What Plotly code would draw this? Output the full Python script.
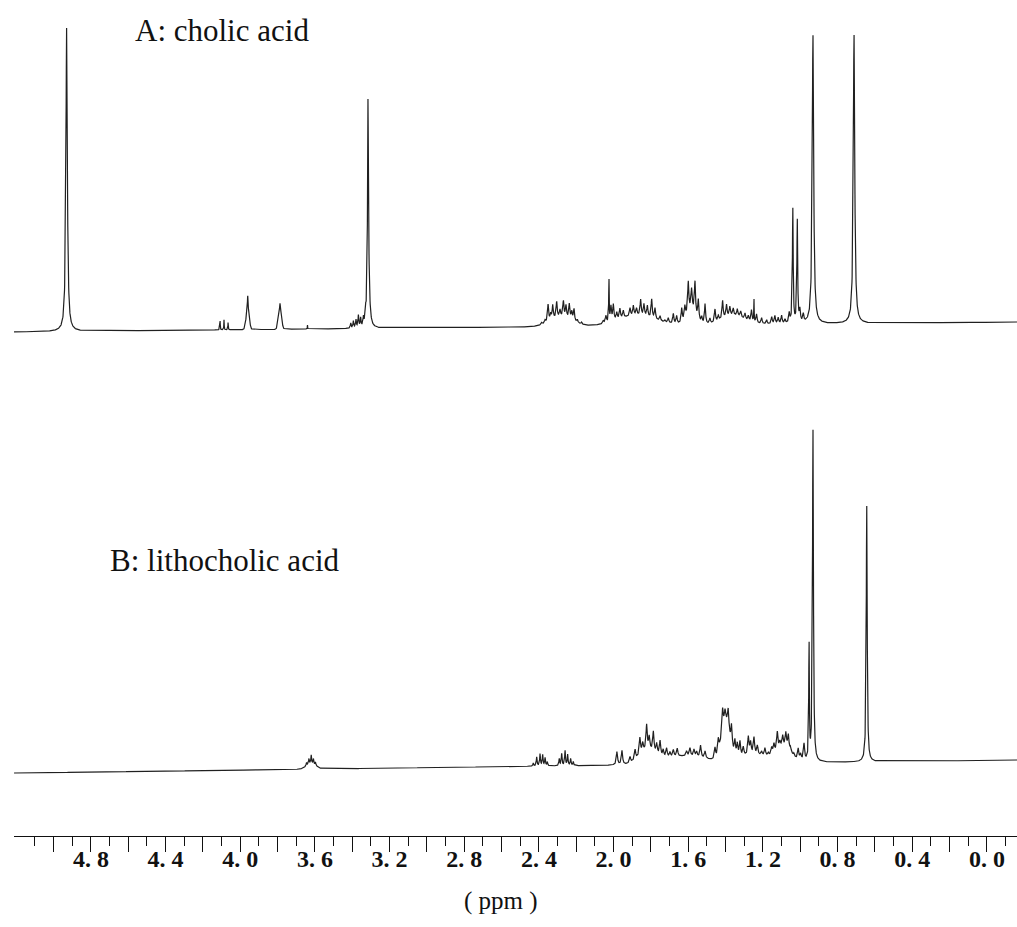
import numpy as np
import plotly.graph_objects as go

# ---------------- axis / ticks ----------------
PPM_LEFT = 5.212
PPM_RIGHT = -0.161
TICK_VALUES = [5.0, 4.8, 4.6, 4.4, 4.2, 4.0, 3.8, 3.6, 3.4, 3.2, 3.0, 2.8, 2.6,
               2.4, 2.2, 2.0, 1.8, 1.6, 1.4, 1.2, 1.0, 0.8, 0.6, 0.4, 0.2, 0.0]
TICK_LABELS = ["", "4. 8", "", "4. 4", "", "4. 0", "", "3. 6", "", "3. 2", "", "2. 8", "",
               "2. 4", "", "2. 0", "", "1. 6", "", "1. 2", "", "0. 8", "", "0. 4", "", "0. 0"]
MINOR_TICK_VALUES = [5.1, 4.9, 4.7, 4.5, 4.3, 4.1, 3.9, 3.7, 3.5, 3.3, 3.1, 2.9, 2.7,
                     2.5, 2.3, 2.1, 1.9, 1.7, 1.5, 1.3, 1.1, 0.9, 0.7, 0.5, 0.3, 0.1, -0.1]

# ---------------- spectrum A: cholic acid ----------------
# sharp lines: position (ppm), height, half-width (ppm)
A_LINE_PPM = [4.930, 4.108, 4.087, 4.065, 3.960, 3.787, 3.640,
              3.408, 3.394, 3.380, 3.367, 3.355, 3.340, 3.328, 3.316, 3.313,
              2.385, 2.367, 2.351, 2.337, 2.326, 2.305, 2.287, 2.269, 2.255, 2.237, 2.224, 2.212, 2.194, 2.171,
              2.055, 2.041, 2.025, 2.014, 2.001, 1.983, 1.966, 1.948, 1.912, 1.894, 1.877, 1.855, 1.837,
              1.819, 1.796, 1.778, 1.751, 1.725, 1.707, 1.680, 1.662, 1.635, 1.618, 1.600, 1.582, 1.564,
              1.546, 1.528, 1.510, 1.484, 1.457, 1.439, 1.416, 1.395, 1.377, 1.359, 1.337, 1.319, 1.296,
              1.278, 1.261, 1.248, 1.234, 1.207, 1.180, 1.153, 1.136, 1.118, 1.100, 1.082, 1.059,
              1.040, 1.016, 1.002, 0.984, 0.932, 0.712]
A_LINE_H = [304, 9, 10, 8, 12, 5, 4,
            5, 7, 8, 12, 9, 8, 10, 185, 55,
            2, 3, 17, 6, 14, 16, 7, 16, 12, 15, 8, 12, 3, 2,
            3, 7, 44, 15, 16, 7, 10, 7, 8, 10, 7, 16, 12,
            11, 19, 11, 5, 2, 5, 10, 8, 14, 12, 30, 20, 32,
            20, 6, 20, 5, 13, 5, 18, 12, 9, 7, 7, 6, 6,
            5, 12, 23, 9, 6, 4, 7, 8, 6, 8, 4, 10,
            115, 103, 12, 8, 289, 289]
A_LINE_W = [0.0045, 0.0012, 0.0012, 0.0012, 0.0015, 0.0015, 0.001,
            0.0025, 0.0025, 0.0025, 0.0025, 0.0025, 0.0025, 0.0025, 0.0025, 0.006,
            0.0035, 0.0035, 0.0035, 0.0035, 0.0035, 0.0035, 0.0035, 0.0035, 0.0035, 0.0035, 0.0035, 0.0035, 0.0035, 0.0035,
            0.0035, 0.0035, 0.0015, 0.0035, 0.0035, 0.0035, 0.0035, 0.0035, 0.0035, 0.0035, 0.0035, 0.0035, 0.0035,
            0.0035, 0.0035, 0.0035, 0.0035, 0.0035, 0.0035, 0.0035, 0.0035, 0.0035, 0.0035, 0.0035, 0.0035, 0.0035,
            0.0035, 0.0035, 0.0035, 0.0035, 0.0035, 0.0035, 0.0035, 0.0035, 0.0035, 0.0035, 0.0035, 0.0035, 0.0035,
            0.0035, 0.0035, 0.0012, 0.0035, 0.0035, 0.0035, 0.0035, 0.0035, 0.0035, 0.0035, 0.0035, 0.0035,
            0.0025, 0.0025, 0.0035, 0.0035, 0.0045, 0.0045]
# broad humps: centre, height, sigma
A_BROAD_PPM = [3.960, 3.787, 2.280, 1.880, 1.585, 1.360]
A_BROAD_H = [22, 21, 9, 10, 15, 9]
A_BROAD_W = [0.008, 0.008, 0.06, 0.10, 0.025, 0.06]

# ---------------- spectrum B: lithocholic acid ----------------
B_LINE_PPM = [3.645, 3.632, 3.620, 3.608, 3.597,
              2.430, 2.412, 2.394, 2.380, 2.367, 2.355,
              2.291, 2.278, 2.260, 2.246, 2.230, 2.216,
              1.982, 1.955,
              1.912, 1.885, 1.859, 1.844, 1.823, 1.809, 1.787, 1.769, 1.751, 1.734, 1.716, 1.698,
              1.680, 1.659, 1.609, 1.591, 1.569, 1.555, 1.534, 1.510, 1.457, 1.439, 1.416, 1.403,
              1.386, 1.368, 1.350, 1.337, 1.323, 1.305, 1.278, 1.266, 1.248, 1.230, 1.207, 1.189,
              1.171, 1.153, 1.141, 1.123, 1.109, 1.094, 1.077, 1.064, 1.052, 1.034, 1.011, 0.998,
              0.980, 0.953, 0.932, 0.644]
B_LINE_H = [3, 5, 8, 5, 3,
            3, 9, 12, 11, 8, 4,
            7, 12, 15, 11, 7, 4,
            13, 14,
            6, 10, 17, 9, 25, 13, 20, 10, 15, 7, 9, 5,
            7, 8, 5, 8, 7, 5, 12, 7, 11, 14, 22, 11,
            19, 21, 15, 13, 15, 9, 18, 12, 17, 9, 4, 8,
            3, 7, 9, 18, 6, 11, 15, 15, 5, 3, 11, 6,
            17, 118, 333, 257]
B_LINE_W = [0.002, 0.002, 0.002, 0.002, 0.002,
            0.0025, 0.0025, 0.0025, 0.0025, 0.0025, 0.0025,
            0.0025, 0.0025, 0.0025, 0.0025, 0.0025, 0.0025,
            0.004, 0.004,
            0.004, 0.004, 0.004, 0.004, 0.004, 0.004, 0.004, 0.004, 0.004, 0.004, 0.004, 0.004,
            0.004, 0.004, 0.004, 0.004, 0.004, 0.004, 0.004, 0.004, 0.004, 0.004, 0.004, 0.004,
            0.004, 0.004, 0.004, 0.004, 0.004, 0.004, 0.004, 0.004, 0.004, 0.004, 0.004, 0.004,
            0.004, 0.004, 0.004, 0.004, 0.004, 0.004, 0.004, 0.004, 0.004, 0.004, 0.004, 0.004,
            0.004, 0.002, 0.003, 0.003]
B_BROAD_PPM = [3.620, 1.820, 1.620, 1.400, 1.250, 1.090]
B_BROAD_H = [6, 12, 8, 38, 8, 14]
B_BROAD_W = [0.025, 0.045, 0.12, 0.022, 0.08, 0.04]

# vertical placement of the two traces (baseline level at left / right end)
A_BASE = (504, 514)
B_BASE = (63, 76)
Y_TOP = 836

ppm = np.arange(PPM_RIGHT, PPM_LEFT, 0.0008)


def build(line_ppm, line_h, line_w, broad_ppm, broad_h, broad_w, base):
    y = np.zeros_like(ppm)
    for c, h, g in zip(line_ppm, line_h, line_w):
        y += h / (1.0 + ((ppm - c) / g) ** 2)
    for c, h, s in zip(broad_ppm, broad_h, broad_w):
        y += h * np.exp(-0.5 * ((ppm - c) / s) ** 2)
    frac = (PPM_LEFT - ppm) / (PPM_LEFT - PPM_RIGHT)
    return y + base[0] + (base[1] - base[0]) * frac


yA = build(A_LINE_PPM, A_LINE_H, A_LINE_W, A_BROAD_PPM, A_BROAD_H, A_BROAD_W, A_BASE)
yB = build(B_LINE_PPM, B_LINE_H, B_LINE_W, B_BROAD_PPM, B_BROAD_H, B_BROAD_W, B_BASE)

fig = go.Figure()
fig.add_trace(go.Scatter(x=ppm, y=yA, mode="lines", name="A: cholic acid",
                         line=dict(color="#202020", width=1.2), hoverinfo="skip"))
fig.add_trace(go.Scatter(x=ppm, y=yB, mode="lines", name="B: lithocholic acid",
                         line=dict(color="#202020", width=1.2), hoverinfo="skip"))

serif = "Liberation Serif, Times New Roman, serif"
fig.add_annotation(x=4.574, y=806, xref="x", yref="y", text="A: cholic acid",
                   showarrow=False, xanchor="left", yanchor="middle",
                   font=dict(family=serif, size=31, color="#111"))
fig.add_annotation(x=4.708, y=276, xref="x", yref="y", text="B: lithocholic acid",
                   showarrow=False, xanchor="left", yanchor="middle",
                   font=dict(family=serif, size=31, color="#111"))
fig.add_annotation(x=0.4856, y=-0.078, xref="paper", yref="paper", text="( ppm )",
                   showarrow=False, xanchor="center", yanchor="middle",
                   font=dict(family=serif, size=25, color="#111"))

fig.update_layout(
    width=1017, height=927,
    margin=dict(l=14, r=0, t=0, b=91),
    paper_bgcolor="white", plot_bgcolor="white",
    showlegend=False,
    xaxis=dict(range=[PPM_LEFT, PPM_RIGHT], autorange=False,
               showgrid=False, zeroline=False,
               showline=True, linecolor="#111", linewidth=1.2,
               tickmode="array", tickvals=TICK_VALUES, ticktext=TICK_LABELS,
               ticks="outside", ticklen=15, tickwidth=1, tickcolor="#111",
               ticklabelstandoff=-14,
               tickfont=dict(family=serif, size=24, color="#111", weight="bold"),
               minor=dict(tickmode="array", tickvals=MINOR_TICK_VALUES,
                          ticks="outside", ticklen=9, tickwidth=1, tickcolor="#111",
                          showgrid=False)),
    yaxis=dict(range=[0, Y_TOP], autorange=False, visible=False,
               showgrid=False, zeroline=False),
)

fig.write_html("out.html")
